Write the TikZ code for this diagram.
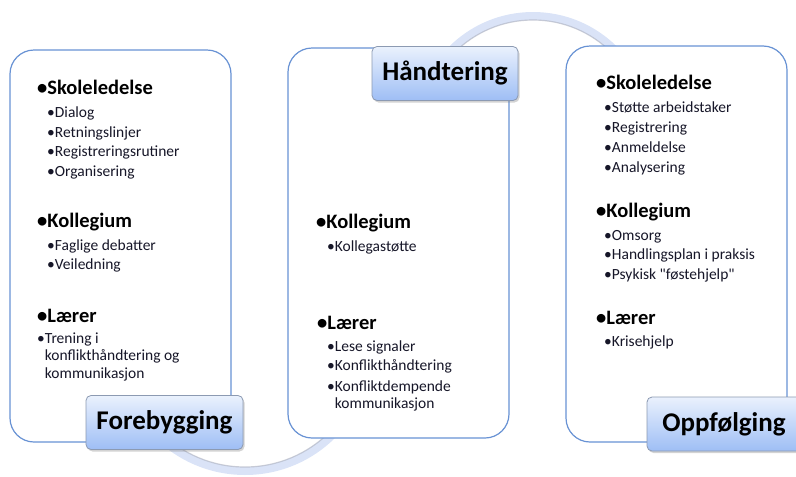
\documentclass[tikz,border=0pt]{standalone}
\usepackage{fontspec}
\setmainfont{Carlito}
\usepackage{tikz}
\usetikzlibrary{shadows}
\definecolor{boxline}{RGB}{104,146,212}
\definecolor{tabline}{RGB}{140,154,178}
\definecolor{tabtop}{RGB}{234,241,253}
\definecolor{tabbot}{RGB}{158,190,245}
\definecolor{ringblue}{RGB}{218,227,247}
\definecolor{ringgray}{RGB}{170,175,190}
\definecolor{itemtext}{RGB}{22,22,40}

\begin{document}
\begin{tikzpicture}[x=1pt, y=-1pt,
    panel/.style={draw=boxline, line width=1.2pt, fill=white, rounded corners=24pt, minimum width=221pt, inner sep=0pt},
    tab/.style={draw=tabline, line width=0.8pt, rounded corners=5pt, top color=tabtop, bottom color=tabbot,
      drop shadow={opacity=0.35, shadow xshift=1.5pt, shadow yshift=-2pt},
      font=\bfseries\fontsize{27}{30}\selectfont, inner sep=0pt, minimum height=54pt},
    head/.style={anchor=base west, inner sep=0pt, font=\bfseries\fontsize{20.5}{24}\selectfont},
    item/.style={anchor=base west, inner sep=0pt, align=left, text=itemtext, font=\fontsize{15.5}{17.5}\selectfont},
    ring/.style={draw=ringblue, line width=8pt},
    ringshade/.style={draw=ringgray, line width=1.2pt, opacity=0.6}]
    \useasboundingbox (0,0) rectangle (796,477);

    \draw[ring] (245,347) ++(0:124) arc[start angle=0, end angle=180, radius=124];
    \draw[ringshade] (245,347) ++(0:120) arc[start angle=0, end angle=180, radius=120];
    \draw[ring] (533,131) ++(180:115) arc[start angle=180, end angle=360, radius=115];
    \draw[ringshade] (533,131) ++(180:111) arc[start angle=180, end angle=360, radius=111];

    \node[panel, minimum height=392pt] (Lbox) at (120.5,246) {};
    \node[panel, minimum height=390pt] (Mbox) at (398.5,243) {};
    \node[panel, minimum height=396pt] (Rbox) at (676.5,244) {};

    \node[tab, minimum width=157pt] (Ltab) at (164.5,422.5) {Forebygging};
    \node[tab, minimum width=146pt] (Mtab) at (445,73.5) {Håndtering};
    \node[tab, minimum width=154pt] (Rtab) at (724,424) {Oppfølging};

    \node[head] (L1) at (37,94) {\textbullet Skoleledelse};
    \node[item] (L11) at (47,117.5) {\textbullet Dialog};
    \node[item] (L12) at (47,137) {\textbullet Retningslinjer};
    \node[item] (L13) at (47,156.5) {\textbullet Registreringsrutiner};
    \node[item] (L14) at (47,176) {\textbullet Organisering};
    \node[head] (L2) at (37,227) {\textbullet Kollegium};
    \node[item] (L21) at (47,250) {\textbullet Faglige debatter};
    \node[item] (L22) at (47,269.5) {\textbullet Veiledning};
    \node[head] (L3) at (37,322) {\textbullet Lærer};
    \node[item] (L31) at (37,378) {\textbullet Trening i\\\hphantom{\textbullet}konflikthåndtering og\\\hphantom{\textbullet}kommunikasjon};

    \node[head] (M1) at (316,228) {\textbullet Kollegium};
    \node[item] (M11) at (327,251) {\textbullet Kollegastøtte};
    \node[head] (M2) at (317,329) {\textbullet Lærer};
    \node[item] (M21) at (327,351) {\textbullet Lese signaler};
    \node[item] (M22) at (327,370.5) {\textbullet Konflikthåndtering};
    \node[item] (M23) at (327,408.5) {\textbullet Konfliktdempende\\\hphantom{\textbullet}kommunikasjon};

    \node[head] (R1) at (596,89) {\textbullet Skoleledelse};
    \node[item] (R11) at (604,112) {\textbullet Støtte arbeidstaker};
    \node[item] (R12) at (604,132) {\textbullet Registrering};
    \node[item] (R13) at (604,152) {\textbullet Anmeldelse};
    \node[item] (R14) at (604,172) {\textbullet Analysering};
    \node[head] (R2) at (596,217) {\textbullet Kollegium};
    \node[item] (R21) at (604,240) {\textbullet Omsorg};
    \node[item] (R22) at (604,259.5) {\textbullet Handlingsplan i praksis};
    \node[item] (R23) at (604,279) {\textbullet Psykisk \textquotedbl føstehjelp\textquotedbl};
    \node[head] (R3) at (596,324) {\textbullet Lærer};
    \node[item] (R31) at (604,346) {\textbullet Krisehjelp};
  \end{tikzpicture}
\end{document}
